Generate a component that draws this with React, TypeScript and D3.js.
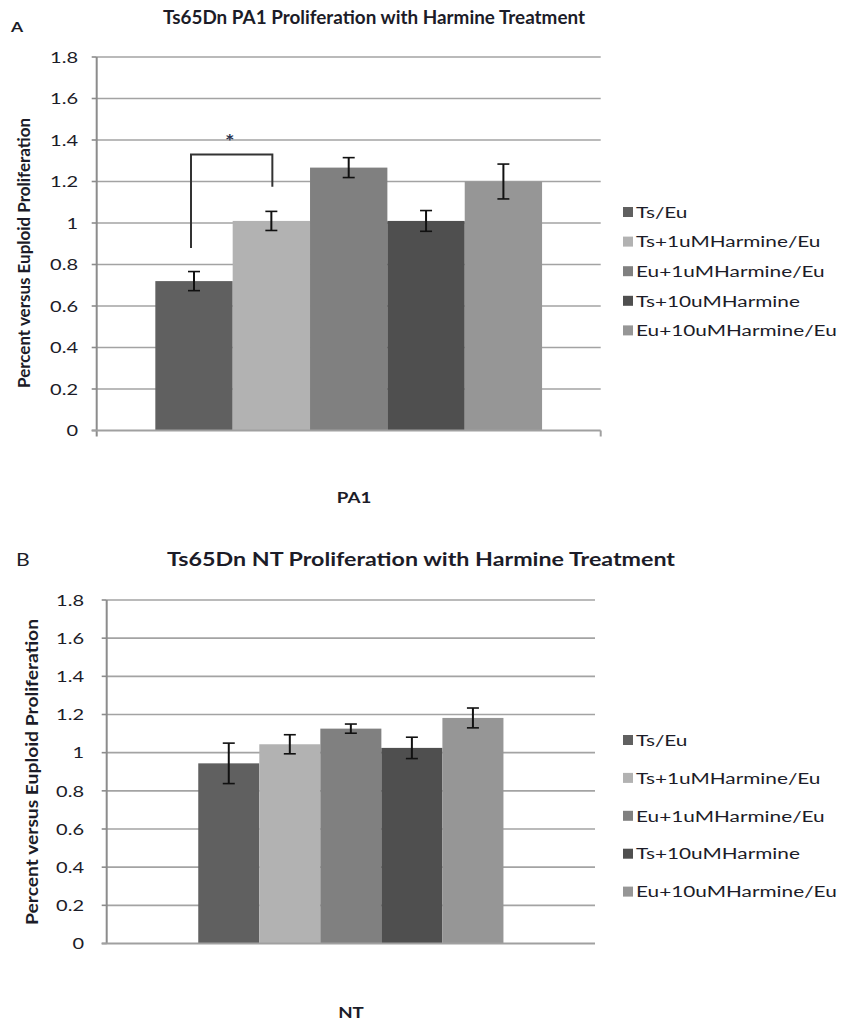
import React from 'react'
import * as d3 from 'd3'

// series shared by both panels
const series = ['Ts/Eu', 'Ts+1uMHarmine/Eu', 'Eu+1uMHarmine/Eu', 'Ts+10uMHarmine', 'Eu+10uMHarmine/Eu']
const colors = ['#606060', '#b2b2b2', '#808080', '#4f4f4f', '#969696']
const yTicks = [0, 0.2, 0.4, 0.6, 0.8, 1, 1.2, 1.4, 1.6, 1.8]

// panel A (PA1)
const pa1Means = [0.72, 1.01, 1.267, 1.01, 1.2]
const pa1Errors = [0.046, 0.046, 0.048, 0.05, 0.084]
// significance bracket between Ts/Eu and Ts+1uM
const pa1Bracket = { from: 0, to: 1, leftEnd: 0.88, top: 1.33, rightEnd: 1.175, star: 1.4 }

// panel B (NT)
const ntMeans = [0.944, 1.044, 1.126, 1.025, 1.182]
const ntErrors = [0.106, 0.05, 0.024, 0.056, 0.052]

const SX = 1.25
const FONT = 'Lato, "Open Sans", sans-serif'
const INK = '#1c1c28'

const SText = ({ x, y, rot, sx = SX, children, ...rest }: any) => (
  <text
    transform={`translate(${x},${y}) scale(${sx},1)${rot ? ` rotate(${rot})` : ''}`}
    fontFamily={FONT}
    fill={INK}
    {...rest}
  >
    {children}
  </text>
)

const Panel = ({ cfg, means, errors, bracket }: any) => {
  const y = d3.scaleLinear().domain([0, 1.8]).range([cfg.y0, cfg.yTop])
  const x0 = d3.scaleBand().domain([cfg.category]).range([cfg.left, cfg.right]).paddingInner(0).paddingOuter(cfg.gap)
  const x1 = d3.scaleBand().domain(series).range([x0(cfg.category)!, x0(cfg.category)! + x0.bandwidth()])
  const bw = x1.bandwidth()
  const cx = (i: number) => x1(series[i])! + bw / 2

  return (
    <g>
      <SText x={cfg.letterX} y={cfg.letterY} fontSize={cfg.letterSize} fontWeight={cfg.letterWeight}>{cfg.letter}</SText>
      <text
        x={cfg.titleX}
        y={cfg.titleY}
        textAnchor="middle"
        fontFamily={FONT}
        fontWeight="bold"
        fontSize={cfg.titleSize}
        fill={INK}
        textLength={cfg.titleLen}
        lengthAdjust="spacingAndGlyphs"
      >
        {cfg.title}
      </text>

      {yTicks.map(t => (
        <g key={t}>
          {t > 0 && <line x1={cfg.left} x2={cfg.right} y1={y(t)} y2={y(t)} stroke="#a3a3a3" strokeWidth={1.6} />}
          <line x1={cfg.left - 5} x2={cfg.left} y1={y(t)} y2={y(t)} stroke="#8c8c8c" strokeWidth={1.6} />
          <SText x={cfg.tickX} y={y(t)} dy="0.36em" textAnchor="end" fontSize={cfg.tickSize}>{d3.format('~g')(t)}</SText>
        </g>
      ))}

      {series.map((s, i) => (
        <rect key={s} x={x1(s)} y={y(means[i])} width={bw} height={y(0) - y(means[i])} fill={colors[i]} />
      ))}

      <line x1={cfg.left} x2={cfg.left} y1={y(1.8)} y2={y(0) + (cfg.downTick ? 6 : 0)} stroke="#8c8c8c" strokeWidth={2} />
      <line x1={cfg.left - 5} x2={cfg.right} y1={y(0)} y2={y(0)} stroke="#a0a0a0" strokeWidth={2} />
      {cfg.downTick && <line x1={cfg.right} x2={cfg.right} y1={y(0)} y2={y(0) + 6} stroke="#a0a0a0" strokeWidth={2} />}

      {series.map((s, i) => {
        const hi = y(means[i] + errors[i])
        const lo = y(means[i] - errors[i])
        return (
          <g key={s} stroke="#111" strokeWidth={1.6}>
            <line x1={cx(i)} x2={cx(i)} y1={hi} y2={lo} strokeWidth={2} />
            <line x1={cx(i) - 6} x2={cx(i) + 6} y1={hi} y2={hi} />
            <line x1={cx(i) - 6} x2={cx(i) + 6} y1={lo} y2={lo} />
          </g>
        )
      })}

      {bracket && (
        <g>
          <path
            d={`M${cx(bracket.from) - 3},${y(bracket.leftEnd)}V${y(bracket.top)}H${cx(bracket.to) + 1}V${y(bracket.rightEnd)}`}
            fill="none"
            stroke="#333"
            strokeWidth={2}
          />
          <SText x={(cx(bracket.from) + cx(bracket.to)) / 2 - 3} y={y(bracket.star) + 8} textAnchor="middle" fontSize={18} fontWeight="bold" fill="#2a3450">*</SText>
        </g>
      )}

      <SText x={cfg.yLabelX} y={cfg.yLabelY} rot={-90} textAnchor="middle" dy="0.35em" fontSize={cfg.yLabelSize} fontWeight="bold"
        textLength={cfg.yLabelLen} lengthAdjust="spacingAndGlyphs">
        Percent versus Euploid Proliferation
      </SText>
      <SText x={cfg.xLabelX} y={cfg.xLabelY} textAnchor="middle" fontSize={cfg.xLabelSize} fontWeight="bold">{cfg.category}</SText>

      {series.map((s, i) => {
        const ly = cfg.legendY + i * cfg.legendStep
        return (
          <g key={s}>
            <rect x={cfg.swX} y={ly - cfg.swH / 2} width={cfg.swW} height={cfg.swH} fill={colors[i]} />
            <SText x={cfg.legendTextX} y={ly} dy="0.36em" sx={1.3} fontSize={cfg.legendSize}>{s}</SText>
          </g>
        )
      })}
    </g>
  )
}

const panelA = {
  category: 'PA1',
  letter: 'A', letterX: 11, letterY: 32, letterSize: 14, letterWeight: 'bold',
  title: 'Ts65Dn PA1 Proliferation with Harmine Treatment',
  titleX: 374, titleY: 24, titleSize: 18, titleLen: 422,
  left: 96.7, right: 600.7, y0: 430.5, yTop: 57, gap: 0.1516,
  tickX: 78, tickSize: 16, downTick: true,
  yLabelX: 24, yLabelY: 253, yLabelSize: 14, yLabelLen: 270,
  xLabelX: 354, xLabelY: 503, xLabelSize: 15,
  legendY: 212, legendStep: 29.6, swX: 623, swW: 10, swH: 10, legendTextX: 636, legendSize: 16,
}

const panelB = {
  category: 'NT',
  letter: 'B', letterX: 16, letterY: 566, letterSize: 17, letterWeight: 'normal',
  title: 'Ts65Dn NT Proliferation with Harmine Treatment',
  titleX: 421, titleY: 566, titleSize: 19, titleLen: 508,
  left: 106.7, right: 595, y0: 943.5, yTop: 600, gap: 0.3,
  tickX: 84, tickSize: 16, downTick: false,
  yLabelX: 32, yLabelY: 772, yLabelSize: 14, yLabelLen: 306,
  xLabelX: 351, xLabelY: 1018, xLabelSize: 15,
  legendY: 740, legendStep: 37.9, swX: 623, swW: 10, swH: 10, legendTextX: 636, legendSize: 16,
}

export default function App() {
  return (
    <svg width={843} height={1026} style={{ position: 'absolute', left: 0, top: 0, background: '#fff' }}>
      <rect width={843} height={1026} fill="#fff" />
      <Panel cfg={panelA} means={pa1Means} errors={pa1Errors} bracket={pa1Bracket} />
      <Panel cfg={panelB} means={ntMeans} errors={ntErrors} />
    </svg>
  )
}
